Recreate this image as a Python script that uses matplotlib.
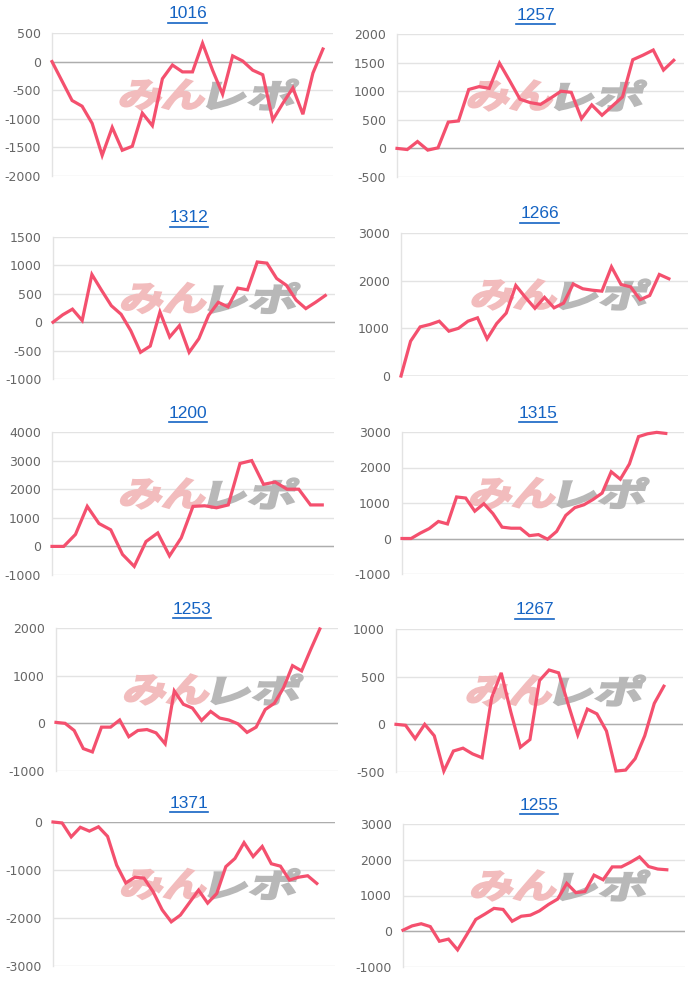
import matplotlib
matplotlib.use('Agg')
import matplotlib.pyplot as plt
import matplotlib.transforms as mtransforms
from matplotlib.textpath import TextPath
from matplotlib.font_manager import FontProperties
from matplotlib.patches import PathPatch
from matplotlib.lines import Line2D
import numpy as np

plt.rcParams['axes.unicode_minus'] = False

# titulos (numero da maquina)
titles = ['1016', '1257', '1312', '1266', '1200', '1315', '1253', '1267', '1371', '1255']

s1016 = [0, -340, -680, -780, -1080, -1640, -1150, -1550, -1480, -900, -1120, -300, -60, -180,
         -180, 320, -150, -570, 100, 10, -150, -230, -1020, -730, -460, -920, -200, 220]
s1257 = [0, -20, 120, -30, 10, 460, 480, 1030, 1080, 1050, 1490, 1180, 860, 800, 770, 880,
         1000, 980, 520, 760, 580, 740, 900, 1550, 1630, 1720, 1370, 1540]
s1312 = [0, 130, 230, 30, 840, 560, 290, 140, -150, -530, -420, 180, -260, -60, -530, -290,
         120, 350, 270, 600, 570, 1060, 1040, 770, 650, 390, 240, 350, 470]
s1266 = [0, 730, 1030, 1080, 1150, 940, 1000, 1150, 1220, 780, 1100, 1320, 1900, 1650, 1420,
         1650, 1430, 1530, 1930, 1830, 1800, 1780, 2290, 1920, 1870, 1600, 1690, 2130, 2040]
s1200 = [0, 0, 420, 1400, 800, 580, -280, -700, 170, 470, -330, 300, 1400, 1420, 1350, 1450,
         2900, 3000, 2170, 2250, 2000, 2000, 1450, 1450]
s1315 = [0, 0, 150, 280, 480, 410, 1170, 1140, 770, 980, 700, 320, 290, 290, 80, 110, -20,
         200, 650, 870, 950, 1100, 1280, 1880, 1670, 2100, 2870, 2950, 2990, 2960]
s1253 = [20, 0, -150, -530, -600, -80, -80, 70, -280, -150, -130, -200, -430, 680, 400, 320,
         60, 250, 110, 70, -10, -190, -80, 290, 420, 740, 1210, 1100, 1550, 1980]
s1267 = [0, -10, -150, 0, -120, -490, -280, -250, -310, -350, 280, 540, 130, -240, -160, 460,
         570, 540, 210, -110, 160, 110, -70, -490, -480, -360, -120, 220, 400]
s1371 = [0, -20, -310, -110, -190, -100, -300, -900, -1270, -1150, -1170, -1450, -1830, -2080,
         -1940, -1680, -1420, -1690, -1490, -930, -760, -430, -720, -510, -870, -920, -1210,
         -1150, -1120, -1280]
s1255 = [30, 150, 210, 130, -280, -220, -520, -100, 330, 480, 640, 610, 280, 420, 450, 570,
         750, 900, 1340, 1080, 1110, 1570, 1440, 1800, 1800, 1930, 2080, 1810, 1740, 1720]

series = [s1016, s1257, s1312, s1266, s1200, s1315, s1253, s1267, s1371, s1255]
x_slots = [28, 28, 29, 30, 24, 31, 31, 30, 31, 31]
y_min = [-2000, -500, -1000, 0, -1000, -1000, -1000, -500, -3000, -1000]
y_max = [500, 2000, 1500, 3000, 4000, 3000, 2000, 1000, 0, 3000]
y_step = [500, 500, 500, 1000, 1000, 1000, 1000, 500, 1000, 1000]

# caixas em pixels (esq, topo, dir, base)
boxes = [(52, 33, 333, 176), (397, 34, 684, 177),
         (53, 237, 335, 379), (401, 233, 688, 376),
         (52, 432, 334, 575), (402, 432, 684, 574),
         (56, 628, 338, 771), (396, 629, 683, 772),
         (53, 822, 335, 966), (403, 824, 685, 967)]

W, H = 700, 986
fig = plt.figure(figsize=(W / 100, H / 100), dpi=100)
fig.patch.set_facecolor('white')

cor_linha = '#f4506e'
cor_titulo = '#1463c3'

fp_wm = FontProperties(family='Noto Sans CJK JP', weight='bold')


def marca(ax, cx, cy):
    # marca d'agua "みんレポ" inclinada, em pixels
    partes = [('みん', '#f2bcbd', cx - 86, 83), ('レポ', '#b8b8b8', cx + 2, 85)]
    for txt, cor, x0, larg in partes:
        p = TextPath((0, 0), txt, size=40, prop=fp_wm)
        ext = p.get_extents()
        sx = larg / ext.width
        sy = 30 / ext.height
        tr = (mtransforms.Affine2D().translate(-ext.x0, -ext.y0).scale(sx, sy)
              .skew_deg(14, 0).translate(x0, H - cy - 15))
        patch = PathPatch(p, facecolor=cor, edgecolor=cor, lw=1.6, transform=tr, zorder=1.5)
        ax.add_artist(patch)
        patch.set_clip_on(False)


for i in range(10):
    l, t, r, b = boxes[i]
    ax = fig.add_axes([l / W, 1 - b / H, (r - l) / W, (b - t) / H])
    ax.set_facecolor('none')
    dados = series[i]
    ax.plot(range(len(dados)), dados, color=cor_linha, lw=2.3, zorder=3,
            solid_joinstyle='miter', clip_on=False)
    ax.set_xlim(0, x_slots[i])
    ax.set_ylim(y_min[i], y_max[i])
    ax.set_yticks(np.arange(y_min[i], y_max[i] + 1, y_step[i]))
    ax.set_xticks([])
    ax.tick_params(axis='y', length=0, pad=8, labelsize=9, labelcolor='#666666')
    for lab in ax.get_yticklabels():
        lab.set_fontfamily('DejaVu Sans')
    ax.grid(axis='y', color='#e3e3e3', lw=1, zorder=0)
    ax.set_axisbelow(True)
    ax.axhline(0, color='#adadad', lw=1, zorder=1)
    for s in ['top', 'right', 'bottom']:
        ax.spines[s].set_visible(False)
    ax.spines['left'].set_color('#e3e3e3')
    ax.spines['left'].set_linewidth(1)

    marca(ax, (l + r) / 2 + 12, (t + b) / 2 - 10)

    tx = (l + r) / 2 - 5
    ty = t - 19
    fig.text(tx / W, 1 - ty / H, titles[i], color=cor_titulo, fontsize=12.5,
             ha='center', va='center', family='Liberation Sans')

# sublinhado dos titulos
fig.canvas.draw()
rend = fig.canvas.get_renderer()
for txt in list(fig.texts):
    bb = txt.get_window_extent(rend)
    yy = bb.y0 - 1
    fig.add_artist(Line2D([bb.x0 / W, bb.x1 / W], [yy / H, yy / H], color=cor_titulo,
                          lw=1.2, transform=fig.transFigure))

plt.savefig('out.png', dpi=100)
